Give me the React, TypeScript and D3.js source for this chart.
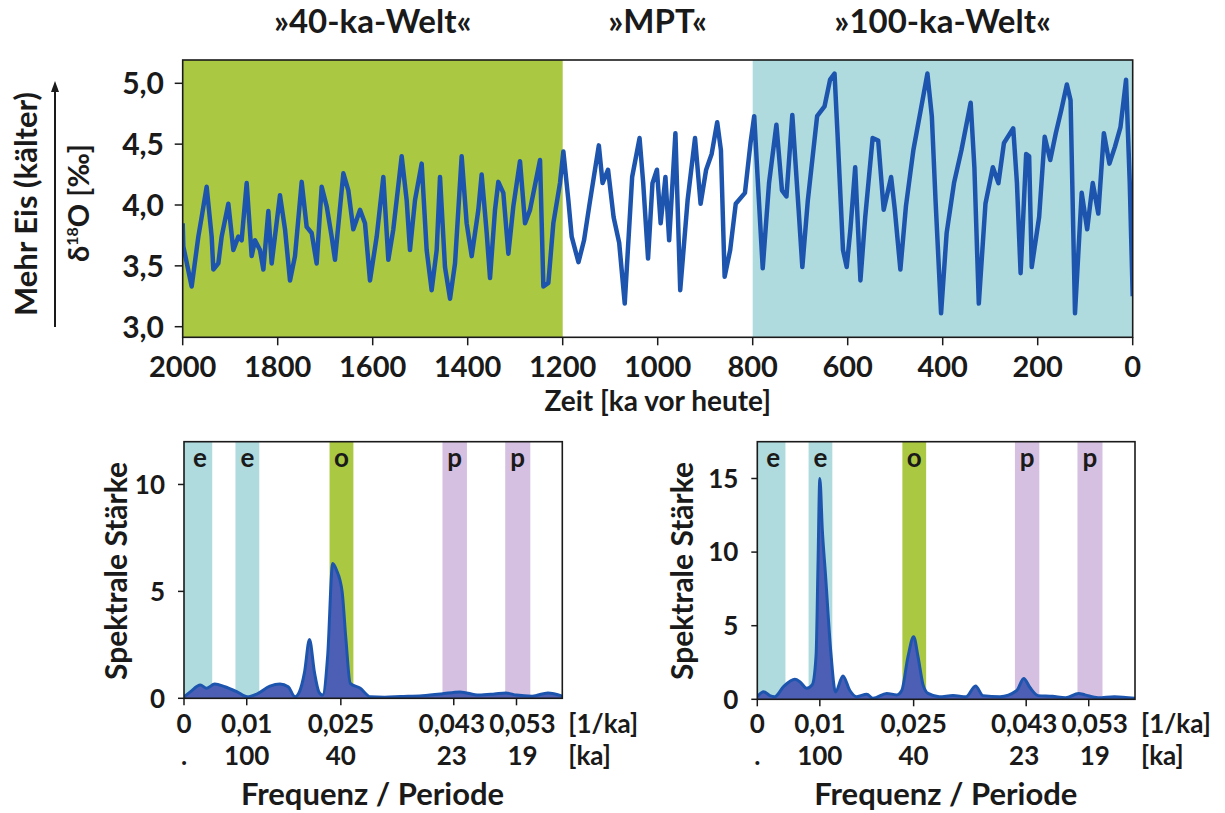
import React from 'react';
import * as d3 from 'd3';

const FONT = "Lato, 'Open Sans', 'DejaVu Sans', sans-serif";

// ---------- top chart: δ18O stack (ka before present, ‰) ----------
const timeKa = [
  2000, 1998.7, 1981.1, 1967.1, 1960.1, 1949.6, 1939.0, 1935.5, 1925.0, 1918.0,
  1903.9, 1893.4, 1882.9, 1875.9, 1865.3, 1854.8, 1847.8, 1837.3, 1830.2, 1819.7,
  1812.7, 1795.2, 1784.6, 1774.1, 1763.6, 1749.5, 1739.0, 1728.5, 1718.0, 1707.4,
  1696.9, 1686.4, 1679.4, 1661.8, 1651.3, 1640.8, 1626.7, 1616.2, 1605.7, 1591.6,
  1577.6, 1567.1, 1556.6, 1539.0, 1528.5, 1521.5, 1510.9, 1496.9, 1486.4, 1475.9,
  1465.3, 1458.3, 1447.8, 1437.2, 1426.7, 1412.7, 1402.2, 1391.6, 1377.6, 1370.6,
  1360.0, 1353.0, 1342.5, 1335.5, 1325.0, 1314.4, 1303.9, 1289.9, 1279.3, 1268.8,
  1247.7, 1240.7, 1230.2, 1219.7, 1205.7, 1198.6, 1188.1, 1181.1, 1166.8, 1155.1,
  1143.4, 1123.9, 1116.1, 1104.5, 1092.8, 1081.1, 1069.4, 1053.8, 1038.2, 1030.5,
  1020.3, 1011.0, 1001.6, 993.8, 983.7, 975.9, 962.7, 952.6, 937.0, 921.4,
  909.7, 898.0, 886.4, 874.7, 866.9, 859.1, 847.4, 835.7, 816.3, 804.6,
  796.8, 789.0, 778.9, 765.6, 750.1, 738.4, 729.0, 716.6, 703.3, 695.5,
  683.9, 664.4, 648.8, 637.1, 627.7, 621.5, 609.9, 602.1, 594.3, 584.2,
  573.2, 563.1, 547.5, 535.8, 524.2, 508.6, 500.8, 489.1, 477.4, 461.8,
  446.3, 432.2, 422.9, 415.1, 403.4, 391.7, 376.2, 360.6, 341.1, 333.3,
  324.0, 310.0, 294.4, 282.7, 271.0, 251.5, 243.7, 236.0, 224.3, 218.0,
  212.6, 197.0, 185.3, 173.6, 161.9, 150.3, 138.6, 130.8, 121.5, 107.4,
  95.8, 84.1, 72.4, 60.7, 49.0, 37.3, 25.7, 14.0, 6.2, 0,
];
const d18O = [
  3.85, 3.66, 3.33, 3.74, 3.90, 4.15, 3.74, 3.47, 3.52, 3.74,
  4.01, 3.63, 3.74, 3.71, 4.18, 3.58, 3.71, 3.63, 3.47, 3.95,
  3.52, 4.08, 3.80, 3.38, 3.58, 4.19, 3.82, 3.77, 3.52, 4.15,
  3.99, 3.74, 3.55, 4.26, 4.12, 3.80, 3.96, 3.85, 3.38, 3.74,
  4.23, 3.55, 3.80, 4.40, 4.04, 3.63, 4.04, 4.34, 3.63, 3.30,
  3.63, 4.23, 3.49, 3.23, 3.52, 4.40, 3.85, 3.58, 3.96, 4.25,
  3.77, 3.40, 3.96, 4.19, 4.10, 3.60, 3.99, 4.36, 3.85, 3.96,
  4.37, 3.33, 3.36, 3.85, 4.18, 4.44, 4.04, 3.74, 3.53, 3.71,
  4.01, 4.49, 4.18, 4.29, 3.90, 3.69, 3.19, 4.23, 4.55, 4.18,
  3.56, 4.18, 4.29, 3.85, 4.23, 3.71, 4.59, 3.30, 4.04, 4.55,
  4.01, 4.29, 4.42, 4.68, 4.45, 3.41, 3.63, 4.01, 4.10, 4.51,
  4.73, 4.18, 3.48, 4.18, 4.66, 4.12, 4.07, 4.74, 3.96, 3.49,
  4.04, 4.73, 4.81, 5.03, 5.08, 4.59, 3.63, 3.49, 3.80, 4.31,
  3.38, 3.90, 4.55, 4.53, 3.96, 4.23, 3.96, 3.47, 3.99, 4.45,
  4.78, 5.08, 4.73, 4.04, 3.11, 3.77, 4.18, 4.45, 4.84, 4.31,
  3.19, 4.01, 4.31, 4.18, 4.51, 4.63, 4.18, 3.44, 4.42, 4.40,
  3.49, 3.90, 4.56, 4.37, 4.59, 4.78, 4.99, 4.86, 3.11, 4.10,
  3.80, 4.18, 3.93, 4.59, 4.34, 4.48, 4.64, 5.03, 4.18, 3.25,
];

const regionTitles = ['»40-ka-Welt«', '»MPT«', '»100-ka-Welt«'];
const regionStart = [2000, 1200, 800];
const regionEnd = [1200, 800, 0];
const regionColors = ['#abc843', 'none', '#afdbde'];

const timeTicks = [2000, 1800, 1600, 1400, 1200, 1000, 800, 600, 400, 200, 0];
const d18OTicks = [3.0, 3.5, 4.0, 4.5, 5.0];

// ---------- spectra ----------
const leftFreq = [
  0, 0.001, 0.0026, 0.0036, 0.0049, 0.0065, 0.0084, 0.0101, 0.0116, 0.0137,
  0.0153, 0.0166, 0.0177, 0.0184, 0.0192, 0.02, 0.0208, 0.0215, 0.0221, 0.0229,
  0.0237, 0.0243, 0.0252, 0.0258, 0.0265, 0.0281, 0.0297, 0.032, 0.0345, 0.038,
  0.041, 0.044, 0.047, 0.0495, 0.0513, 0.053, 0.0555, 0.058, 0.0603,
];
const leftPower = [
  0.07, 0.3, 0.62, 0.47, 0.67, 0.54, 0.31, 0.07, 0.2, 0.57,
  0.67, 0.54, 0.07, 0.3, 1.2, 2.75, 1.2, 0.3, 0.15, 2.0,
  6.3, 6.0, 5.0, 2.8, 0.7, 0.47, 0.07, 0.05, 0.08, 0.12,
  0.2, 0.3, 0.15, 0.2, 0.25, 0.15, 0.1, 0.25, 0.1,
];
const rightFreq = [
  0, 0.001, 0.002, 0.0028, 0.0042, 0.006, 0.0068, 0.0079, 0.0088, 0.0094,
  0.0097, 0.01, 0.0104, 0.0109, 0.0118, 0.0125, 0.0137, 0.0148, 0.0159, 0.0175,
  0.0185, 0.0207, 0.0223, 0.0231, 0.0241, 0.025, 0.0257, 0.0265, 0.0273, 0.0291,
  0.0313, 0.0334, 0.0349, 0.0361, 0.0388, 0.0415, 0.0426, 0.0436, 0.0449, 0.0472,
  0.0493, 0.0514, 0.0524, 0.0545, 0.0571, 0.0604,
];
const rightPower = [
  0.18, 0.52, 0.25, 0.18, 0.86, 1.36, 1.2, 0.75, 1.0, 3.0,
  9.0, 15.0, 11.5, 8.5, 3.0, 0.5, 1.58, 0.6, 0.18, 0.35,
  0.07, 0.4, 0.3, 0.6, 2.9, 4.25, 2.9, 1.0, 0.4, 0.18,
  0.25, 0.18, 0.9, 0.25, 0.18, 0.6, 1.42, 0.8, 0.25, 0.2,
  0.1, 0.4, 0.3, 0.1, 0.18, 0.07,
];

const bandKinds = ['e', 'e', 'o', 'p', 'p'];
const bandFrom = [-0.0005, 0.0082, 0.0232, 0.0412, 0.0512];
const bandTo = [0.0045, 0.012, 0.027, 0.0451, 0.0552];
const bandColors: Record<string, string> = { e: '#afdbde', o: '#abc843', p: '#d5c0e2' };

const freqTicks = [0, 0.01, 0.025, 0.043, 0.053];
const freqTickLabels = ['0', '0,01', '0,025', '0,043', '0,053'];
const periodTickLabels = ['.', '100', '40', '23', '19'];
const leftPowerTicks = [0, 5, 10];
const rightPowerTicks = [0, 5, 10, 15];

const LINE = '#1d55ae';
const AREA = '#4d5fb4';
const INK = '#1a1a1a';

function TopChart() {
  const L = 182.7, R = 1132.7, T = 60, B = 337.3;
  const x = d3.scaleLinear().domain([2000, 0]).range([L, R]);
  const y = d3.scaleLinear().domain([3, 5]).range([326.7, 83.3]);
  const pts = timeKa.map((t, i) => [t, d18O[i]] as [number, number]);
  const line = d3.line<[number, number]>().x(d => x(d[0])).y(d => y(d[1]));
  const fmt = (v: number) => d3.format('.1f')(v).replace('.', ',');
  return (
    <g>
      <defs>
        <clipPath id="topclip"><rect x={L} y={T} width={R - L} height={B - T} /></clipPath>
      </defs>
      {regionTitles.map((r, i) => (
        <g key={r}>
          {regionColors[i] !== 'none' && (
            <rect x={x(regionStart[i])} y={T} width={x(regionEnd[i]) - x(regionStart[i])} height={B - T} fill={regionColors[i]} />
          )}
          <text x={x((regionStart[i] + regionEnd[i]) / 2)} y={33} textAnchor="middle" fontSize={33} fontWeight={700} fill={INK}>{r}</text>
        </g>
      ))}
      <path d={line(pts) || ''} fill="none" stroke={LINE} strokeWidth={4.5} strokeLinejoin="round" clipPath="url(#topclip)" />
      <rect x={L} y={T} width={R - L} height={B - T} fill="none" stroke={INK} strokeWidth={1.6} />
      {timeTicks.map(t => (
        <g key={t}>
          <line x1={x(t)} x2={x(t)} y1={B} y2={B + 8} stroke={INK} strokeWidth={1.5} />
          <text x={x(t)} y={377} textAnchor="middle" fontSize={29} fontWeight={700} fill={INK}>{t}</text>
        </g>
      ))}
      {d18OTicks.map(v => (
        <g key={v}>
          <line x1={L - 8} x2={L} y1={y(v)} y2={y(v)} stroke={INK} strokeWidth={1.5} />
          <text x={164} y={y(v)} dy="0.36em" textAnchor="end" fontSize={30} fontWeight={700} fill={INK}>{fmt(v)}</text>
        </g>
      ))}
      <text x={(L + R) / 2} y={411} textAnchor="middle" fontSize={28} fontWeight={700} fill={INK}>Zeit [ka vor heute]</text>
      <text transform="translate(37,204) rotate(-90)" textAnchor="middle" fontSize={31} fontWeight={700} fill={INK}>Mehr Eis (kälter)</text>
      <line x1={55} x2={55} y1={327} y2={90} stroke={INK} strokeWidth={2} />
      <path d="M55,81 L51,92 L59,92 Z" fill={INK} />
      <text transform="translate(89,203) rotate(-90)" textAnchor="middle" fontSize={29} fontWeight={700} fill={INK}>
        δ<tspan fontSize={16} dy={-11}>18</tspan><tspan dy={11}>O [‰]</tspan>
      </text>
    </g>
  );
}

function Spectrum(props: {
  id: string; L: number; R: number; T: number; B: number; fMax: number; pMax: number;
  freq: number[]; power: number[]; pTicks: number[]; titleX: number;
}) {
  const { id, L, R, T, B, fMax, pMax, freq, power, pTicks, titleX } = props;
  const x = d3.scaleLinear().domain([0, fMax]).range([L, R]);
  const y = d3.scaleLinear().domain([0, pMax]).range([B, T]);
  const pts = freq.map((f, i) => [f, power[i]] as [number, number]);
  const area = d3.area<[number, number]>().x(d => x(d[0])).y0(y(0)).y1(d => y(d[1])).curve(d3.curveMonotoneX);
  const line = d3.line<[number, number]>().x(d => x(d[0])).y(d => y(d[1])).curve(d3.curveMonotoneX);
  const labelShift = (i: number) => (i === 4 ? 6 : i === 3 ? -2 : 0);
  return (
    <g>
      <defs>
        <clipPath id={id}><rect x={L} y={T} width={R - L} height={B - T + 3} /></clipPath>
      </defs>
      <g clipPath={`url(#${id})`}>
        {bandKinds.map((k, i) => (
          <rect key={i} x={x(bandFrom[i])} y={T} width={x(bandTo[i]) - x(bandFrom[i])} height={B - T} fill={bandColors[k]} />
        ))}
      </g>
      {bandKinds.map((k, i) => (
        <text key={i} x={Math.max(x((bandFrom[i] + bandTo[i]) / 2), L + 16)} y={467} textAnchor="middle" fontSize={26} fontWeight={700} fill={INK}>{k}</text>
      ))}
      <path d={area(pts) || ''} fill={AREA} clipPath={`url(#${id})`} />
      <path d={line(pts) || ''} fill="none" stroke={LINE} strokeWidth={3} strokeLinejoin="round" clipPath={`url(#${id})`} />
      <rect x={L} y={T} width={R - L} height={B - T} fill="none" stroke={INK} strokeWidth={1.6} />
      {pTicks.map(v => (
        <g key={v}>
          <line x1={L - 6} x2={L} y1={y(v)} y2={y(v)} stroke={INK} strokeWidth={1.5} />
          <text x={L - 19} y={y(v)} dy="0.36em" textAnchor="end" fontSize={26} fontWeight={700} fill={INK}>{v}</text>
        </g>
      ))}
      {freqTicks.map((f, i) => (
        <g key={f}>
          <line x1={x(f)} x2={x(f)} y1={B} y2={B + 7} stroke={INK} strokeWidth={1.5} />
          <text x={x(f) + labelShift(i)} y={733} textAnchor="middle" fontSize={26} fontWeight={700} fill={INK}>{freqTickLabels[i]}</text>
          <text x={x(f) + labelShift(i)} y={765} textAnchor="middle" fontSize={26} fontWeight={700} fill={INK}>{periodTickLabels[i]}</text>
        </g>
      ))}
      <text x={R + 6} y={733} fontSize={26} fontWeight={700} fill={INK}>[1/ka]</text>
      <text x={R + 6} y={765} fontSize={26} fontWeight={700} fill={INK}>[ka]</text>
      <text transform={`translate(${titleX},571) rotate(-90)`} textAnchor="middle" fontSize={30} fontWeight={700} fill={INK}>Spektrale Stärke</text>
      <text x={L + 188.5} y={805} textAnchor="middle" fontSize={31} fontWeight={700} fill={INK}>Frequenz / Periode</text>
    </g>
  );
}

export default function App() {
  return (
    <svg width={1225} height={813} viewBox="0 0 1225 813"
      style={{ position: 'absolute', left: 0, top: 0, background: '#fff', fontFamily: FONT }}>
      <rect width={1225} height={813} fill="#fff" />
      <TopChart />
      <Spectrum id="clipL" L={184} R={562.3} T={441.7} B={698.3} fMax={0.0603} pMax={12}
        freq={leftFreq} power={leftPower} pTicks={leftPowerTicks} titleX={127} />
      <Spectrum id="clipR" L={757.3} R={1135} T={441.7} B={699.3} fMax={0.0604} pMax={17.5}
        freq={rightFreq} power={rightPower} pTicks={rightPowerTicks} titleX={693} />
    </svg>
  );
}
